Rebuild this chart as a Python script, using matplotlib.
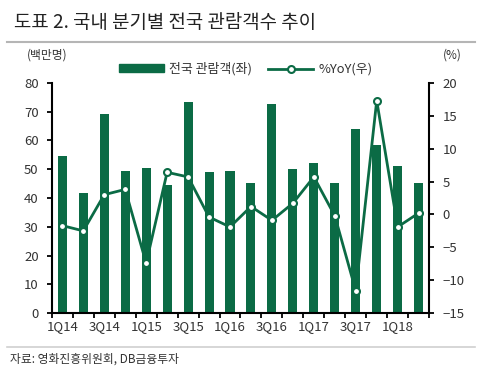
import matplotlib
matplotlib.use("Agg")
import matplotlib.pyplot as plt
import numpy as np
from matplotlib.lines import Line2D
from matplotlib.patches import Patch

plt.rcParams['font.family'] = ['Noto Sans CJK KR', 'DejaVu Sans']

quarters = ["1Q14", "2Q14", "3Q14", "4Q14", "1Q15", "2Q15", "3Q15", "4Q15",
            "1Q16", "2Q16", "3Q16", "4Q16", "1Q17", "2Q17", "3Q17", "4Q17",
            "1Q18", "2Q18"]
audience = [54.5, 41.8, 69.2, 49.2, 50.4, 44.5, 73.2, 49.1,
            49.4, 45.1, 72.5, 50.1, 52.3, 45.1, 64.0, 58.5, 51.2, 45.1]
yoy = [-1.7, -2.5, 3.0, 3.8, -7.4, 6.4, 5.7, -0.4,
       -1.9, 1.2, -0.9, 1.7, 5.7, -0.2, -11.6, 17.3, -1.9, 0.2]
left_ticks = [0, 10, 20, 30, 40, 50, 60, 70, 80]
right_ticks = [-15, -10, -5, 0, 5, 10, 15, 20]

green = "#0b6b45"
txt = "#333333"

fig = plt.figure(figsize=(4.8, 3.8), dpi=100)
ax = fig.add_axes([0.108, 0.176, 0.786, 0.606])
x = np.arange(len(quarters))
ax.bar(x, audience, width=0.43, color=green, zorder=2)
ax.set_xlim(-0.5, len(quarters) - 0.5)
ax.set_ylim(0, 80)
ax.set_yticks(left_ticks)
ax.set_xticks(np.arange(-0.5, len(quarters), 1.0))
ax.set_xticklabels([])
ax.set_xticks(x[::2], minor=True)
ax.set_xticklabels(quarters[::2], minor=True)
ax.tick_params(axis='x', which='major', length=3.5, width=1.3, direction='out', color='black')
ax.tick_params(axis='x', which='minor', length=0, pad=5, labelsize=9.5, colors=txt)
ax.tick_params(axis='y', length=3.5, width=1.3, labelsize=9.5, labelcolor=txt, color='black', pad=6)
for s in ['top', 'right']:
    ax.spines[s].set_visible(False)
for s in ['left', 'bottom']:
    ax.spines[s].set_linewidth(1.5)

ax2 = ax.twinx()
ax2.plot(x, yoy, color=green, lw=2, marker='o', ms=5, mfc='white', mec=green, mew=1.5, zorder=3)
ax2.set_ylim(-15, 20)
ax2.set_yticks(right_ticks)
ax2.set_yticklabels([str(v).replace('-', '\u2212') for v in right_ticks])
ax2.tick_params(axis='y', length=3.5, width=1.3, labelsize=9.5, labelcolor=txt, pad=6)
for s in ['top', 'left', 'bottom']:
    ax2.spines[s].set_visible(False)
ax2.spines['right'].set_linewidth(1.5)

# title & decorations
fig.text(0.03, 0.94, "도표 2. 국내 분기별 전국 관람객수 추이", fontsize=13.6, color='#222222',
         va='center', ha='left')
fig.add_artist(Line2D([0.015, 0.99], [0.89, 0.89], color='#b5b5b5', lw=1.5))
fig.text(0.055, 0.855, "(백만명)", fontsize=8.5, color=txt, va='center', ha='left')
fig.text(0.962, 0.855, "(%)", fontsize=8.5, color=txt, va='center', ha='right')
fig.add_artist(Line2D([0.015, 0.99], [0.087, 0.087], color='#d0d0d0', lw=1.2))
fig.text(0.02, 0.055, "자료: 영화진흥위원회, DB금융투자", fontsize=8.5, color=txt,
         va='center', ha='left')

handles = [Patch(color=green),
           Line2D([0], [0], color=green, lw=2, marker='o', ms=5, mfc='white', mec=green, mew=1.5)]
fig.legend(handles, ["전국 관람객(좌)", "%YoY(우)"], loc='center', bbox_to_anchor=(0.512, 0.818),
           ncol=2, frameon=False, fontsize=9.3, handlelength=3.5, handleheight=0.55,
           columnspacing=1.2, handletextpad=0.4, labelcolor=txt)

fig.savefig("out.png", dpi=100)
